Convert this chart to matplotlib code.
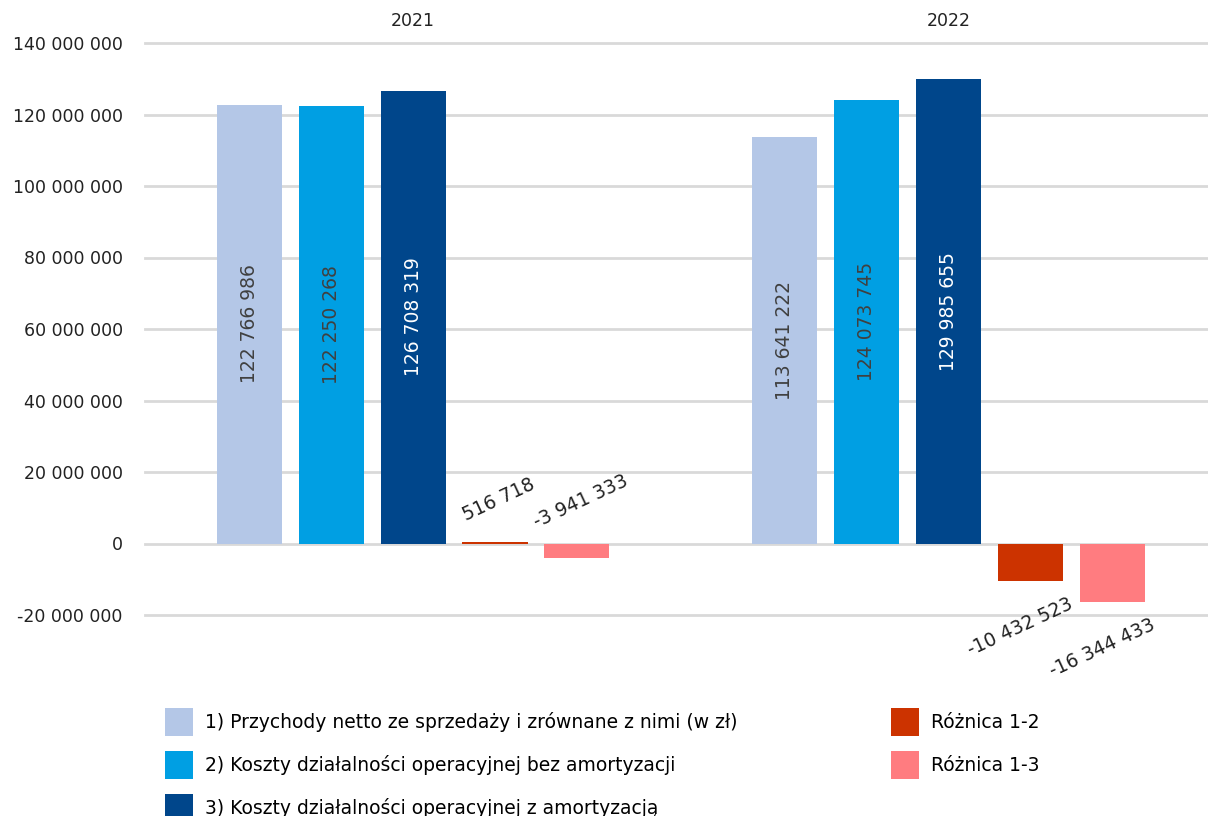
import numpy as np
import matplotlib.pyplot as plt
from matplotlib.ticker import FuncFormatter

# dane
lata = ['2021', '2022']
przychody = [122766986, 113641222]
koszty_bez_amort = [122250268, 124073745]
koszty_z_amort = [126708319, 129985655]
roznica_1_2 = [516718, -10432523]
roznica_1_3 = [-3941333, -16344433]

serie = [
    ('1) Przychody netto ze sprzedaży i zrównane z nimi (w zł)', przychody, '#B4C7E7', '#404040'),
    ('2) Koszty działalności operacyjnej bez amortyzacji', koszty_bez_amort, '#009FE3', '#404040'),
    ('3) Koszty działalności operacyjnej z amortyzacją', koszty_z_amort, '#00468B', 'white'),
    ('Różnica 1-2', roznica_1_2, '#CC3300', '#222222'),
    ('Różnica 1-3', roznica_1_3, '#FF7C80', '#222222'),
]

plt.rcParams['font.family'] = ['DejaVu Sans']
plt.rcParams['font.size'] = 12.5

fig = plt.figure(figsize=(12.08, 8.16), dpi=100)
ax = fig.add_axes([145 / 1208, 1 - 615 / 816, 1 - 145 / 1208, (615 - 43) / 816])

x = np.arange(len(lata))
szer = 0.1214
krok = 0.1531

slupki = []
for i, (nazwa, wart, kolor, kolor_tekstu) in enumerate(serie):
    pos = x + (i - 2) * krok
    b = ax.bar(pos, wart, szer, color=kolor, label=nazwa, zorder=3)
    slupki.append(b)
    for xp, v in zip(pos, wart):
        etykieta = f'{v:,}'.replace(',', ' ')
        if abs(v) > 50_000_000:
            ax.text(xp, v / 2, etykieta, rotation=90, ha='center', va='center',
                    color=kolor_tekstu, fontsize=13.5, zorder=4)
        else:
            # male wartosci - etykieta skosem nad/pod slupkiem
            if xp < 0.5:
                y0, dy = max(v, 0), 42
            else:
                y0, dy = min(v, 0), -46
            ax.annotate(etykieta, (xp, y0), xytext=(-10 if xp > 0.5 else 4, dy),
                        textcoords='offset pixels', rotation=25,
                        ha='center', va='center', color=kolor_tekstu, fontsize=13.5)

ax.set_ylim(-20_000_000, 140_000_000)
ax.set_yticks(np.arange(-20_000_000, 140_000_001, 20_000_000))
ax.yaxis.set_major_formatter(FuncFormatter(lambda v, p: f'{int(v):,}'.replace(',', ' ')))
ax.set_xlim(-0.5005, 1.4846)
ax.set_xticks(x)
ax.set_xticklabels(lata)
ax.xaxis.tick_top()
ax.tick_params(axis='both', length=0, colors='#222222')
ax.tick_params(axis='y', pad=16)
ax.tick_params(axis='x', pad=9)
ax.grid(axis='y', color='#D9D9D9', linewidth=2, zorder=0)
for gl in ax.get_ygridlines():
    gl.set_clip_on(False)
for s in ax.spines.values():
    s.set_visible(False)

opcje = dict(frameon=False, loc='upper left', borderpad=0, borderaxespad=0,
             handlelength=1.49, handleheight=1.92, handletextpad=0.64,
             labelspacing=0.8, fontsize=13.5)
leg1 = fig.legend(slupki[:3], [s[0] for s in serie[:3]],
                  bbox_to_anchor=(165 / 1208, 1 - 708 / 816), **opcje)
leg2 = fig.legend(slupki[3:], [s[0] for s in serie[3:]],
                  bbox_to_anchor=(891 / 1208, 1 - 708 / 816), **opcje)

fig.savefig('out.png', dpi=100)
